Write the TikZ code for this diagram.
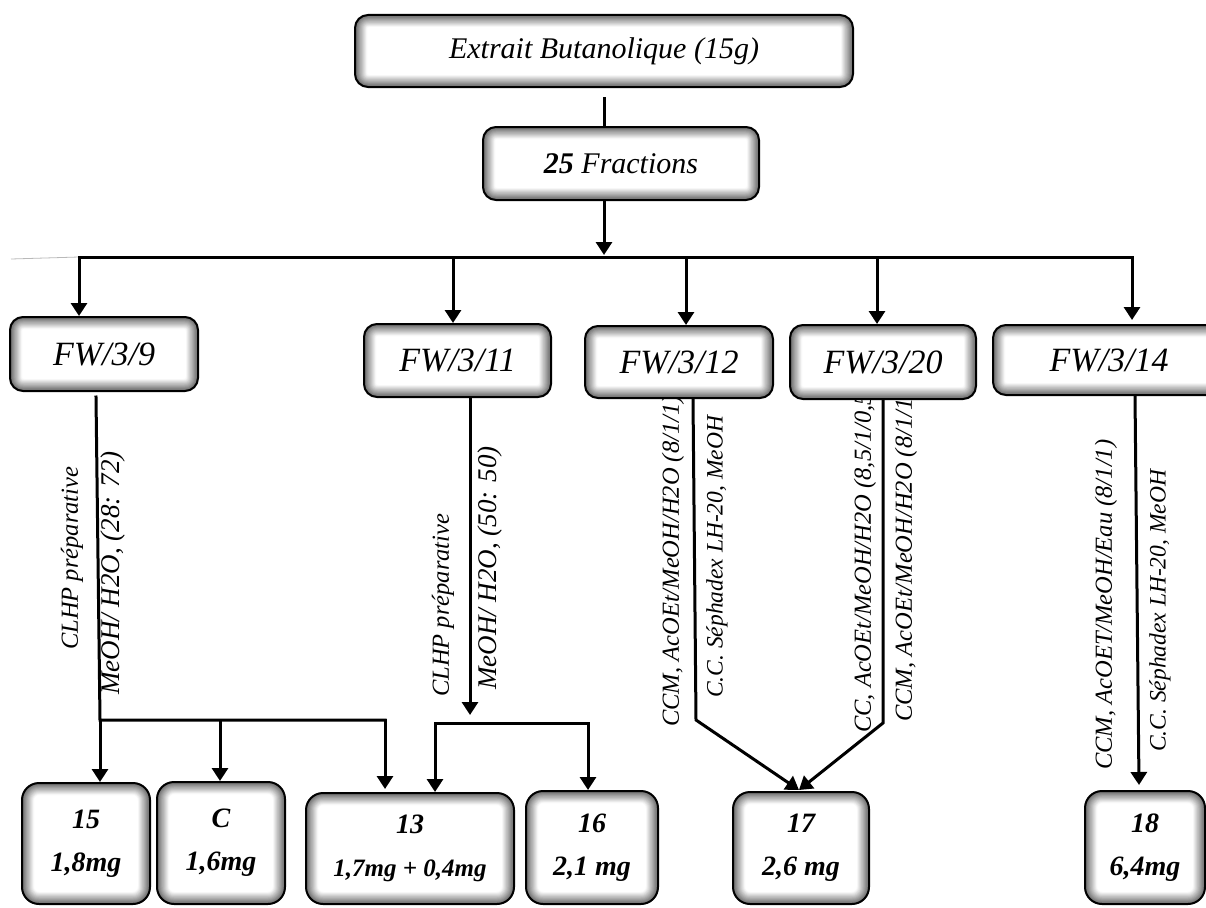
\documentclass[tikz,border=0pt]{standalone}
\usepackage{fontspec}
\setmainfont{Liberation Serif}
\usetikzlibrary{arrows.meta,calc}
\tikzset{
  conn/.style={draw=black, line width=3pt, line cap=rect, line join=miter},
  arr/.style={conn, -{Triangle[length=13pt,width=16pt]}},
  box/.style={draw=black, line width=2pt, fill=white, rounded corners=#1, inner sep=0pt,
    path picture={
      \foreach \i in {0,...,10}{
        \pgfmathsetmacro\lw{24-2.1*\i}
        \pgfmathsetmacro\sh{3+5.2*\i}
        \draw[line width=\lw pt, black!\sh, rounded corners=#1]
          (path picture bounding box.south west) rectangle (path picture bounding box.north east);
      }
    }},
  box/.default=13pt,
  headtxt/.style={font=\fontsize{30}{34}\selectfont\itshape},
  fwtxt/.style={font=\fontsize{34}{38}\selectfont\itshape},
  restxt/.style={font=\fontsize{28}{43}\selectfont\bfseries\itshape, align=center},
  lab/.style={rotate=90, anchor=west, inner sep=0pt, font=\fontsize{24.5}{28}\selectfont\itshape},
  labsep/.style={lab, font=\fontsize{23.5}{28}\selectfont\itshape},
  labhp/.style={lab, font=\fontsize{24.5}{28}\selectfont\itshape},
  labmix/.style={lab, font=\fontsize{27}{30}\selectfont\itshape},
}
\begin{document}
\begin{tikzpicture}[x=1pt,y=-1pt]
\useasboundingbox (0,0) rectangle (1206,907);

% conditions written along the separation lines (drawn first, boxes cover their upper ends)
\node[labhp] (l1) at (72,650) {CLHP préparative};
\node[labmix] (l2) at (113,695) {MeOH/ H2O, (28: 72)};
\node[labhp] (l3) at (443,697) {CLHP préparative};
\node[labmix] (l4) at (490,690) {MeOH/ H2O, (50: 50)};
\node[lab] (l5) at (673,727) {CCM, AcOEt/MeOH/H2O (8/1/1)};
\node[labsep] (l6) at (717,698) {C.C. Séphadex LH-20, MeOH};
\node[lab] (l7) at (865,733) {CC, AcOEt/MeOH/H2O (8,5/1/0,5)};
\node[lab] (l8) at (906,722) {CCM, AcOEt/MeOH/H2O (8/1/1)};
\node[lab] (l9) at (1106,770) {CCM, AcOET/MeOH/Eau (8/1/1)};
\node[labsep] (l10) at (1160,752) {C.C. Séphadex LH-20, MeOH};

% extract and fractions
\node[box, minimum width=498pt, minimum height=72pt, headtxt] (top) at (604,51) {Extrait Butanolique (15g)};
\node[box, minimum width=276pt, minimum height=73pt, headtxt] (frac) at (621,163.5) {{\bfseries 25} Fractions};

% fractions kept
\node[box, minimum width=188pt, minimum height=74pt, fwtxt] (fw9) at (104,354) {FW/3/9};
\node[box, minimum width=187pt, minimum height=73pt, fwtxt] (fw11) at (457.5,360.5) {FW/3/11};
\node[box, minimum width=188pt, minimum height=72pt, fwtxt] (fw12) at (679,362) {FW/3/12};
\node[box, minimum width=186pt, minimum height=74pt, fwtxt] (fw20) at (883,362) {FW/3/20};
\node[box, minimum width=232pt, minimum height=70pt, fwtxt] (fw14) at (1109,360) {FW/3/14};

% isolated compounds
\node[box=17pt, minimum width=128pt, minimum height=121pt, restxt] (b15) at (86,843.5) {15\\1,8mg};
\node[box=17pt, minimum width=128pt, minimum height=122pt, restxt] (bC) at (221,843) {C\\1,6mg};
\node[box=17pt, minimum width=208pt, minimum height=111pt, restxt] (b13) at (410,848.5) {13\\{\fontsize{25}{43}\selectfont 1,7mg + 0,4mg}};
\node[box=17pt, minimum width=132pt, minimum height=113pt, restxt] (b16) at (592,847.5) {16\\2,1 mg};
\node[box=17pt, minimum width=136pt, minimum height=112pt, restxt] (b17) at (801,848) {17\\2,6 mg};
\node[box=17pt, minimum width=120pt, minimum height=113pt, restxt] (b18) at (1145,847.5) {18\\6,4mg};

% trunk
\coordinate (hub) at (604,255);
\coordinate (d1) at (79,257);
\coordinate (d2) at (453,257);
\coordinate (d3) at (686,257);
\coordinate (d4) at (877,257);
\coordinate (d5) at (1132,257);
\draw[conn] ($(top.south)+(0,10)$) -- (top.south |- frac.north);
\draw[arr] (top.south |- frac.south) -- (hub);
\draw[gray!55, line width=0.8pt] (11,259) -- (d1);
\draw[conn] (d1) -- (d5);
\draw[arr] (d1) -- (d1 |- fw9.north);
\draw[arr] (d2) -- (d2 |- fw11.north);
\draw[arr] (d3) -- (d3 |- fw12.north);
\draw[arr] (d4) -- (d4 |- fw20.north);
\draw[arr] (d5) -- ($(d5 |- fw14.north)+(0,-4)$);

% FW/3/9
\coordinate (j9) at (100,720);
\coordinate (m9) at (220,720);
\coordinate (k9) at (385,720);
\draw[conn] ($(fw9.south)+(-8,5)$) -- (j9) -- (k9);
\draw[arr] (j9) -- (j9 |- b15.north);
\draw[arr] (m9) -- (m9 |- bC.north);
\draw[arr] (k9) -- ($(k9 |- b13.north)+(0,-3)$);

% FW/3/11
\coordinate (t11) at (470,715);
\coordinate (j11) at (435,723);
\coordinate (k11) at (588,723);
\draw[arr] ($(fw11.south)+(12.5,0)$) -- (t11);
\draw[conn] (j11) -- (k11);
\draw[arr] (j11) -- (j11 |- b13.north);
\draw[arr] (k11) -- (k11 |- b16.north);

% FW/3/12 and FW/3/20 meet in 17
\coordinate (j12) at (696,720);
\coordinate (j20) at (883,723);
\draw[arr] ($(fw12.south)+(14,0)$) -- (j12) -- ($(b17.north)+(-2,-1)$);
\draw[arr] (fw20.south) -- (j20) -- ($(b17.north)+(-2,-1)$);

% FW/3/14
\draw[arr] ($(fw14.south)+(26,0)$) -- ($(b18.north)+(-6,-5)$);
\end{tikzpicture}
\end{document}
